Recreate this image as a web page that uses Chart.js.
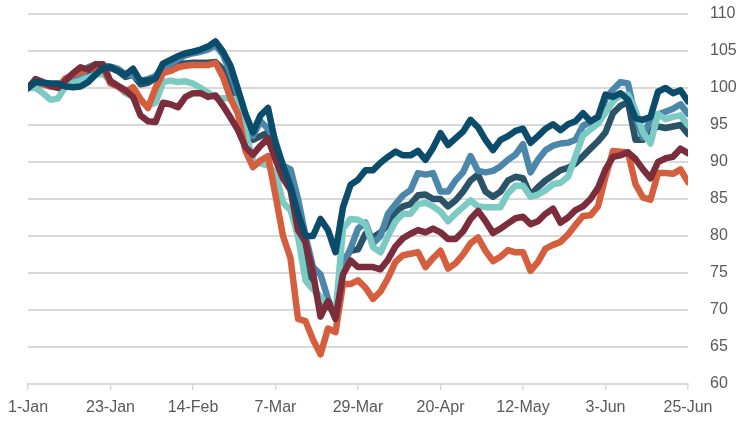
<!DOCTYPE html>
<html><head><meta charset="utf-8">
<script src="https://cdn.jsdelivr.net/npm/chart.js@4.4.0/dist/chart.umd.min.js"></script>
<style>html,body{margin:0;padding:0;background:#fff}#wrap{width:747px;height:422px;position:relative}</style>
</head><body><div id="wrap"><canvas id="c"></canvas></div>
<script>
// day index from 1-Jan (0) to 25-Jun (176)
const days = [0,2,4,6,8,10,12,14,16,18,
  20,22,24,26,28,30,32,34,36,38,
  40,42,44,46,48,50,52,54,56,58,
  60,62,64,66,68,70,72,74,76,78,
  80,82,84,86,88,90,92,94,96,98,
  100,102,104,106,108,110,112,114,116,118,
  120,122,124,126,128,130,132,134,136,138,
  140,142,144,146,148,150,152,154,156,158,
  160,162,164,166,168,170,172,174,176];
const tickDays = [0,22,44,66,88,110,132,154,176];
const tickLabels = ['1-Jan','23-Jan','14-Feb','7-Mar','29-Mar','20-Apr','12-May','3-Jun','25-Jun'];

const seriesNavy = [100.0,100.8,100.7,100.6,100.6,100.2,100.1,100.2,100.8,101.8,
  102.7,102.8,102.3,101.8,102.6,100.9,101.0,101.3,103.3,103.8,
  104.3,104.7,104.9,105.2,105.6,106.3,104.9,103.0,99.8,96.5,
  94.0,96.3,97.3,92.5,89.5,86.7,83.0,80.0,80.0,82.3,
  80.8,77.8,83.9,86.9,87.6,88.9,88.9,89.9,90.7,91.4,
  90.9,90.9,91.5,90.3,91.9,93.9,92.3,93.2,94.1,95.7,
  94.7,93.0,91.6,93.0,93.5,94.2,94.5,92.6,93.5,94.5,
  95.1,94.3,95.1,95.5,96.6,95.5,96.1,99.1,98.8,99.3,
  98.4,95.9,95.7,96.1,99.5,100.0,99.3,99.7,98.2];
const seriesBlue = [100.0,100.6,100.5,100.4,100.3,100.6,100.8,101.5,102.8,103.2,
  103.0,102.9,102.6,101.8,101.8,101.0,101.2,101.6,102.8,103.3,
  103.9,104.4,104.7,104.9,105.2,105.8,104.5,102.0,99.0,96.0,
  93.5,95.5,94.5,92.8,89.5,89.0,85.0,80.0,75.8,74.8,
  71.5,69.0,76.0,78.3,81.0,81.8,79.0,80.0,83.0,84.3,
  85.5,86.2,88.5,88.3,88.5,86.0,86.0,87.5,88.6,90.8,
  88.8,88.6,88.8,89.4,90.3,91.0,92.4,88.6,90.3,91.6,
  92.2,92.5,92.6,93.0,94.9,95.4,95.7,98.5,99.8,100.8,
  100.6,96.0,93.3,95.8,96.4,96.8,97.2,97.8,96.5];
const seriesSlate = [100.0,100.6,100.6,100.5,100.4,100.6,100.8,101.4,102.3,102.8,
  102.8,102.7,102.3,101.5,101.8,100.5,100.7,101.3,102.5,103.0,
  103.3,103.3,103.4,103.4,103.4,103.5,102.5,100.5,98.5,95.5,
  93.0,93.5,94.0,91.8,89.5,87.5,82.0,75.5,73.0,71.5,
  70.5,69.5,76.5,78.0,78.2,80.3,79.8,80.5,81.5,83.2,
  84.0,84.3,85.5,85.6,85.0,85.0,84.0,84.8,86.0,87.5,
  88.3,86.0,85.3,86.0,87.5,88.0,87.8,85.5,86.6,87.5,
  88.2,88.9,89.2,89.8,90.8,91.8,92.8,94.0,96.6,97.6,
  98.1,93.0,93.0,94.3,94.8,94.6,94.8,95.0,93.8];
const seriesTeal = [100.0,100.0,99.3,98.4,98.6,100.2,100.7,101.0,101.4,101.8,
  101.9,101.0,100.2,99.3,98.8,98.2,97.6,98.0,100.8,101.0,
  100.8,100.9,100.6,100.0,99.4,98.7,98.6,98.6,98.4,94.0,
  90.2,89.8,89.5,88.5,84.5,83.5,80.0,74.0,72.8,71.8,
  70.6,69.5,81.0,82.3,82.2,81.6,78.5,77.8,80.0,82.0,
  83.0,83.0,84.3,84.5,84.0,83.3,82.0,83.0,83.9,84.8,
  84.0,83.9,83.9,83.9,85.8,86.8,86.8,85.3,85.6,86.2,
  87.0,87.2,88.0,90.8,93.6,94.4,95.2,96.7,98.2,99.0,
  99.1,97.0,94.0,92.5,96.5,95.8,96.1,96.3,95.0];
const seriesOrange = [100.0,101.0,100.5,100.2,100.1,101.3,101.8,102.2,102.5,102.8,
  102.8,100.6,100.2,99.5,100.1,98.5,97.3,100.0,102.0,102.3,
  102.8,103.0,103.1,103.1,103.1,103.4,101.5,98.6,96.5,91.5,
  89.3,90.2,90.8,85.5,80.0,77.0,68.8,68.5,66.0,64.0,
  67.5,67.0,73.5,73.5,74.0,73.0,71.5,72.5,74.3,76.5,
  77.4,77.6,77.8,75.8,77.0,78.0,75.6,76.3,77.5,79.0,
  79.8,78.0,76.6,77.2,78.1,77.8,77.8,75.3,76.5,78.3,
  78.8,79.2,80.2,81.5,82.7,82.8,84.0,88.0,91.5,91.4,
  91.3,87.0,85.2,84.9,88.5,88.5,88.4,89.0,87.3];
const seriesMaroon = [100.0,101.2,100.8,100.3,100.0,101.0,102.0,102.8,102.5,103.2,
  103.2,100.9,100.3,99.7,98.8,96.3,95.5,95.4,98.0,97.8,
  97.4,98.8,99.3,99.3,98.8,99.0,97.6,96.0,94.3,92.0,
  91.0,92.2,93.2,90.3,87.8,86.2,80.8,79.2,75.0,69.1,
  71.2,68.8,74.8,76.7,75.8,75.8,75.8,75.5,76.8,78.6,
  79.7,80.3,80.8,80.5,81.0,80.5,79.6,79.6,80.6,82.3,
  83.4,82.0,80.4,81.0,81.7,82.4,82.6,81.6,82.0,83.0,
  83.7,81.8,82.5,83.5,84.0,85.0,86.5,89.0,90.7,90.9,
  91.3,90.4,89.0,87.8,90.0,90.5,90.7,91.8,91.2];

const pts = arr => arr.map((v, i) => ({x: days[i], y: v}));
const mk = (arr, color) => ({
  data: pts(arr), borderColor: color, backgroundColor: color, borderWidth: 6.5,
  pointRadius: 0, tension: 0, fill: false, borderJoinStyle: 'round', borderCapStyle: 'round'
});
const font = {family: "'Liberation Sans', Arial, sans-serif", size: 16};
new Chart(document.getElementById('c'), {
  type: 'line',
  data: {datasets: [
    mk(seriesNavy, '#0b4c6b'),
    mk(seriesMaroon, '#7c2d3c'),
    mk(seriesOrange, '#d45e3d'),
    mk(seriesTeal, '#7ccac4'),
    mk(seriesBlue, '#4a87aa'),
    mk(seriesSlate, '#2b5367')
  ]},
  options: {
    responsive: true, maintainAspectRatio: false, animation: false,
    layout: {padding: {left: 27, right: 0, top: 14, bottom: 0}},
    plugins: {legend: {display: false}, tooltip: {enabled: false}},
    scales: {
      x: {
        type: 'linear', min: 0, max: 176,
        afterBuildTicks: s => { s.ticks = tickDays.map(v => ({value: v})); },
        ticks: {autoSkip: false, maxRotation: 0, padding: 8, color: '#595959', font,
          callback: v => tickLabels[tickDays.indexOf(v)]},
        grid: {drawOnChartArea: false, drawTicks: true, tickLength: 6, color: '#d9d9d9', lineWidth: 1.5},
        border: {display: true, color: '#d9d9d9', width: 2},
        afterFit: s => { s.height = 38; }
      },
      y: {
        position: 'right', min: 60, max: 110,
        ticks: {stepSize: 5, padding: 2, color: '#595959', font},
        grid: {color: '#d9d9d9', lineWidth: 2, drawTicks: true, tickLength: 20, tickColor: 'rgba(0,0,0,0)'},
        border: {display: false},
        afterFit: s => { s.width = 59; }
      }
    }
  }
});
</script></body></html>
